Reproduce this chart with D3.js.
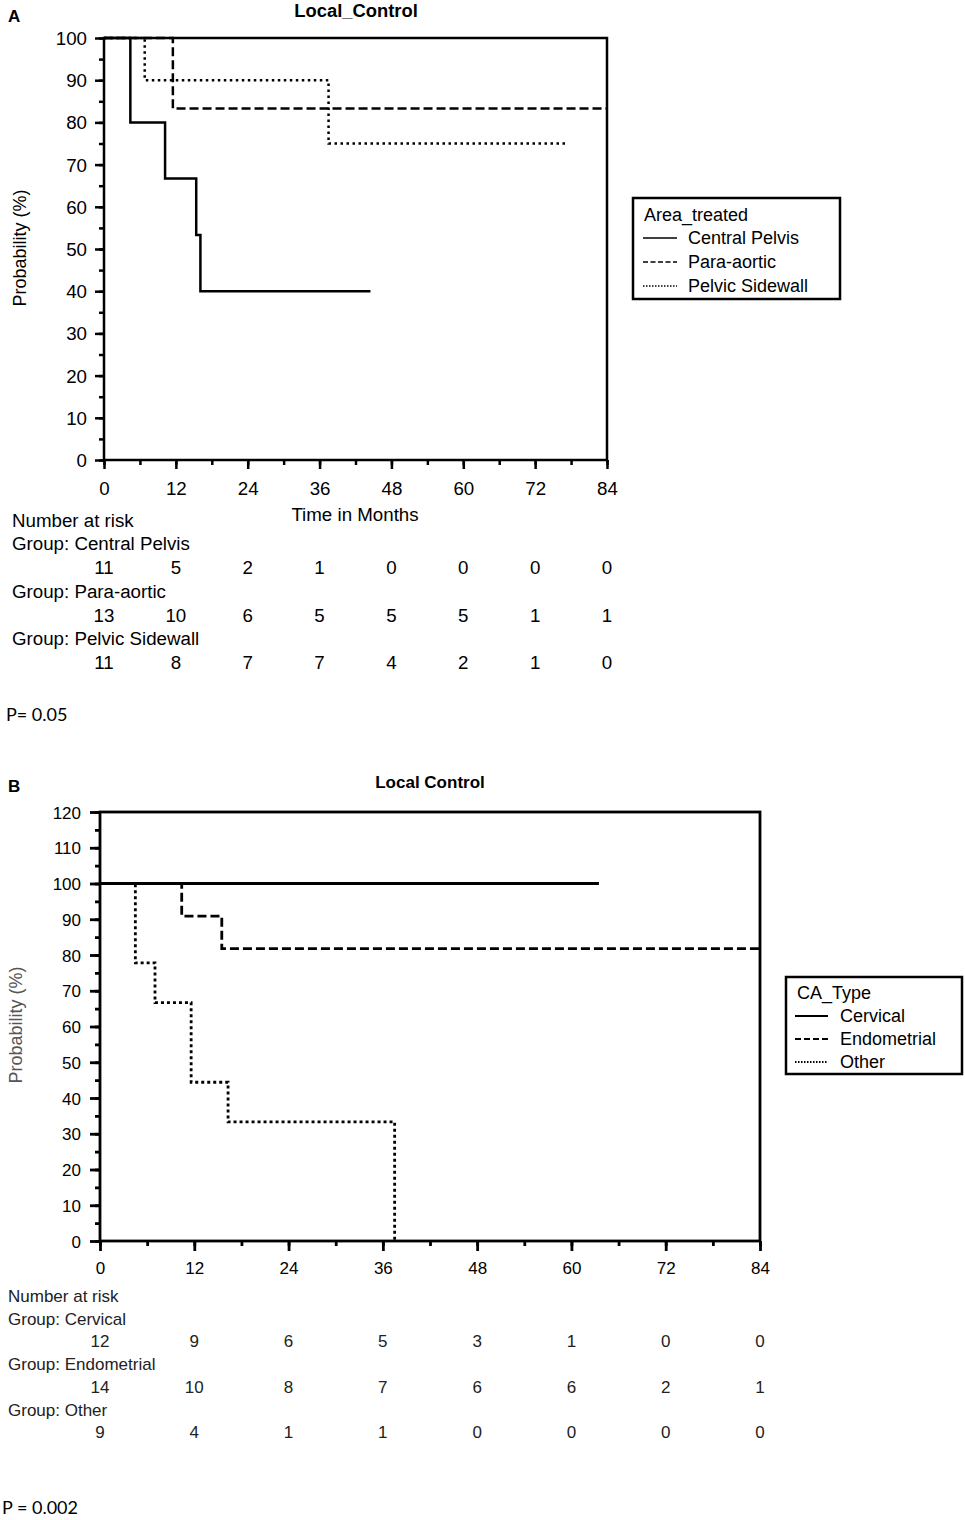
<!DOCTYPE html>
<html><head><meta charset="utf-8">
<script src="https://cdn.jsdelivr.net/npm/d3@7"></script>
<style>body{margin:0;background:#fff}svg{display:block}</style>
</head><body>
<svg id="c" width="965" height="1520"></svg>
<script>
// ---------- DATA ----------
const xTicks = [0, 12, 24, 36, 48, 60, 72, 84];
const yTicksA = [0,10,20,30,40,50,60,70,80,90,100];
const yTicksB = [0,10,20,30,40,50,60,70,80,90,100,110,120];

// Panel A: Area_treated
const groupsA = ["Central Pelvis", "Para-aortic", "Pelvic Sidewall"];
const centralTimes = [0, 4.4, 10.2, 15.4, 16.1];
const centralSurv  = [100, 80, 66.7, 53.3, 40];
const centralEnd = 44.5;
const paraTimes = [0, 11.5];
const paraSurv  = [100, 83.3];
const paraEnd = 84;
const sidewallTimes = [0, 6.8, 37.5];
const sidewallSurv  = [100, 90, 75];
const sidewallEnd = 77;
const riskCentral  = [11, 5, 2, 1, 0, 0, 0, 0];
const riskPara     = [13, 10, 6, 5, 5, 5, 1, 1];
const riskSidewall = [11, 8, 7, 7, 4, 2, 1, 0];

// Panel B: CA_Type
const groupsB = ["Cervical", "Endometrial", "Other"];
const cervicalTimes = [0];
const cervicalSurv  = [100];
const cervicalEnd = 63.5;
const endoTimes = [0, 10.4, 15.5];
const endoSurv  = [100, 90.9, 81.8];
const endoEnd = 84;
const otherTimes = [0, 4.5, 7.0, 11.6, 16.3, 37.5];
const otherSurv  = [100, 77.8, 66.7, 44.4, 33.3, 0];
const otherEnd = 37.5;
const riskCervical = [12, 9, 6, 5, 3, 1, 0, 0];
const riskEndo     = [14, 10, 8, 7, 6, 6, 2, 1];
const riskOther    = [9, 4, 1, 1, 0, 0, 0, 0];

// ---------- HELPERS ----------
const svg = d3.select("#c");
const ARIAL = "'Liberation Sans', Arial, sans-serif";
function txt(g, x, y, s, o = {}) {
  const sx = o.sx || 1;
  const rot = o.rotate ? ` rotate(${o.rotate})` : "";
  return g.append("text")
    .attr("transform", `translate(${x},${y})${rot} scale(${sx},1)`)
    .attr("text-anchor", o.anchor || "start")
    .attr("font-family", o.family || ARIAL)
    .attr("font-size", o.size || 16)
    .attr("font-weight", o.weight || "normal")
    .attr("fill", o.fill || "#000")
    .text(s);
}
function steps(times, surv, end) {
  const pts = times.map((t, i) => [t, surv[i]]);
  if (end > times[times.length - 1]) pts.push([end, surv[surv.length - 1]]);
  return pts;
}

function panel(cfg) {
  const g = svg.append("g");
  const x = d3.scaleLinear().domain([0, 84]).range([cfg.x0, cfg.x1]);
  const y = d3.scaleLinear().domain([0, cfg.ymax]).range([cfg.yb, cfg.yt]);
  const sw = cfg.sw;

  const minorY = d3.range(0, cfg.ymax + 0.1, 5);
  const minorX = d3.range(0, 84.1, 6);
  g.append("g").attr("transform", `translate(${cfg.x0},0)`)
    .call(d3.axisLeft(y).tickValues(minorY).tickSize(cfg.minor).tickSizeOuter(0).tickFormat(""))
    .call(a => a.select(".domain").remove())
    .call(a => a.selectAll("line").attr("stroke-width", sw));
  g.append("g").attr("transform", `translate(0,${cfg.yb})`)
    .call(d3.axisBottom(x).tickValues(minorX).tickSize(cfg.minor).tickSizeOuter(0).tickFormat(""))
    .call(a => a.select(".domain").remove())
    .call(a => a.selectAll("line").attr("stroke-width", sw));
  g.append("g").attr("transform", `translate(${cfg.x0},0)`)
    .call(d3.axisLeft(y).tickValues(cfg.yTicks).tickSize(cfg.major).tickSizeOuter(0))
    .call(a => a.select(".domain").remove())
    .call(a => a.selectAll("line").attr("stroke-width", sw))
    .call(a => a.selectAll("text").attr("x", null).attr("dy", "0.36em")
      .attr("transform", `translate(${-cfg.ylabOff},0) scale(${cfg.sx},1)`)
      .attr("font-family", ARIAL).attr("font-size", cfg.tickSize).attr("fill", "#000"));
  g.append("g").attr("transform", `translate(0,${cfg.yb})`)
    .call(d3.axisBottom(x).tickValues(xTicks).tickSize(cfg.major).tickSizeOuter(0))
    .call(a => a.select(".domain").remove())
    .call(a => a.selectAll("line").attr("stroke-width", sw))
    .call(a => a.selectAll("text").attr("y", null).attr("dy", null)
      .attr("transform", `translate(0,${cfg.xlabOff}) scale(${cfg.sx},1)`)
      .attr("font-family", ARIAL).attr("font-size", cfg.tickSize).attr("fill", "#000"));

  g.append("rect").attr("x", cfg.x0).attr("y", cfg.yt)
    .attr("width", cfg.x1 - cfg.x0).attr("height", cfg.yb - cfg.yt)
    .attr("fill", "none").attr("stroke", "#000").attr("stroke-width", sw);

  const line = d3.line().x(d => x(d[0])).y(d => y(d[1])).curve(d3.curveStepAfter);
  cfg.series.forEach(s => {
    g.append("path").datum(steps(s.t, s.v, s.end))
      .attr("d", line).attr("fill", "none").attr("stroke", "#000")
      .attr("stroke-width", sw).attr("stroke-dasharray", s.dash || null);
  });

  cfg.risk.forEach((r, i) => {
    r.forEach((n, j) => {
      txt(g, x(xTicks[j]), cfg.riskRows[i], n, {anchor: "middle", size: cfg.riskSize, sx: cfg.sx, fill: cfg.riskFill});
    });
  });
  return {g, x, y};
}

// ---------- PANEL A ----------
const A = panel({
  x0: 104, x1: 607, yt: 38, yb: 460, ymax: 100, yTicks: yTicksA, sw: 2.5,
  major: 9, minor: 5, ylabOff: 17, xlabOff: 35, sx: 1.04, tickSize: 18,
  series: [
    {t: centralTimes, v: centralSurv, end: centralEnd},
    {t: paraTimes, v: paraSurv, end: paraEnd, dash: "9,4"},
    {t: sidewallTimes, v: sidewallSurv, end: sidewallEnd, dash: "2.5,3.5"}
  ],
  risk: [riskCentral, riskPara, riskSidewall], riskRows: [574, 622, 669], riskSize: 18, riskFill: "#000"
});
txt(A.g, 8, 22, "A", {size: 17, weight: "bold"});
txt(A.g, 356, 17, "Local_Control", {anchor: "middle", size: 17.5, weight: "bold", sx: 1.05});
txt(A.g, 26, 248, "Probability (%)", {anchor: "middle", size: 18, rotate: -90});
txt(A.g, 355, 521, "Time in Months", {anchor: "middle", size: 18, sx: 1.04});
txt(A.g, 12, 527, "Number at risk", {size: 18, sx: 1.04});
txt(A.g, 12, 550, "Group: " + groupsA[0], {size: 18, sx: 1.04});
txt(A.g, 12, 598, "Group: " + groupsA[1], {size: 18, sx: 1.04});
txt(A.g, 12, 645, "Group: " + groupsA[2], {size: 18, sx: 1.04});
txt(A.g, 6, 721, "P= 0.05", {size: 18, family: "Lato, 'Open Sans', sans-serif"});

const lgA = A.g.append("g");
lgA.append("rect").attr("x", 633).attr("y", 198).attr("width", 207).attr("height", 101)
  .attr("fill", "#fff").attr("stroke", "#000").attr("stroke-width", 2.5);
txt(lgA, 644, 221, "Area_treated", {size: 18});
const dashA = [null, "5,2.5", "1.5,1.5"];
groupsA.forEach((name, i) => {
  const yy = 238 + i * 24;
  lgA.append("line").attr("x1", 643).attr("x2", 677).attr("y1", yy).attr("y2", yy)
    .attr("stroke", "#000").attr("stroke-width", 1.6).attr("stroke-dasharray", dashA[i]);
  txt(lgA, 688, yy + 6, name, {size: 18});
});

// ---------- PANEL B ----------
const B = panel({
  x0: 100, x1: 760, yt: 812, yb: 1241, ymax: 120, yTicks: yTicksB, sw: 2.8,
  major: 10, minor: 5, ylabOff: 19, xlabOff: 33, sx: 1, tickSize: 17,
  series: [
    {t: cervicalTimes, v: cervicalSurv, end: cervicalEnd},
    {t: endoTimes, v: endoSurv, end: endoEnd, dash: "9,4"},
    {t: otherTimes, v: otherSurv, end: otherEnd, dash: "3,3"}
  ],
  risk: [riskCervical, riskEndo, riskOther], riskRows: [1347, 1393, 1438], riskSize: 17, riskFill: "#222"
});
txt(B.g, 8, 792, "B", {size: 17, weight: "bold"});
txt(B.g, 430, 788, "Local Control", {anchor: "middle", size: 17, weight: "bold"});
txt(B.g, 22, 1025, "Probability (%)", {anchor: "middle", size: 18, rotate: -90, fill: "#555"});
txt(B.g, 8, 1302, "Number at risk", {size: 17, fill: "#222"});
txt(B.g, 8, 1325, "Group: " + groupsB[0], {size: 17, fill: "#222"});
txt(B.g, 8, 1370, "Group: " + groupsB[1], {size: 17, fill: "#222"});
txt(B.g, 8, 1416, "Group: " + groupsB[2], {size: 17, fill: "#222"});
txt(B.g, 2, 1514, "P = 0.002", {size: 18, family: "Lato, 'Open Sans', sans-serif"});

const lgB = B.g.append("g");
lgB.append("rect").attr("x", 786).attr("y", 977).attr("width", 176).attr("height", 97)
  .attr("fill", "#fff").attr("stroke", "#000").attr("stroke-width", 2.5);
txt(lgB, 797, 999, "CA_Type", {size: 18});
const dashB = [null, "6,3", "1.5,1.5"];
groupsB.forEach((name, i) => {
  const yy = 1016 + i * 23;
  lgB.append("line").attr("x1", 795).attr("x2", 828).attr("y1", yy).attr("y2", yy)
    .attr("stroke", "#000").attr("stroke-width", 1.8).attr("stroke-dasharray", dashB[i]);
  txt(lgB, 840, yy + 6, name, {size: 18});
});
</script>
</body></html>
